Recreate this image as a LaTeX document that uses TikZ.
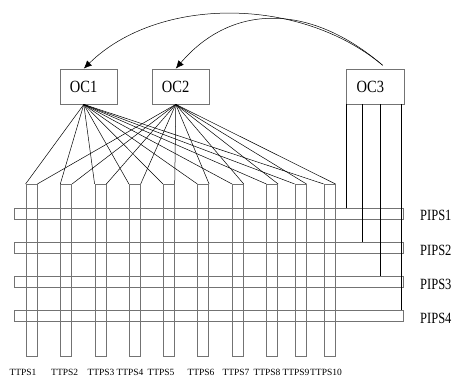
\documentclass[tikz,border=0pt]{standalone}
\usepackage{fontspec}
\setmainfont{Liberation Serif}
\usepackage{tikz}
\usetikzlibrary{calc,arrows.meta}

\newcommand{\tallx}[2]{\scalebox{1}[#1]{#2}}

\begin{document}
\begin{tikzpicture}[x=1pt,y=-1pt,>={Latex[length=8pt,width=7pt]},
	ocbox/.style={draw=black!55,line width=0.8pt,minimum height=35pt,text width=37.7pt,
		inner xsep=10pt,inner ysep=0pt,align=left,font=\fontsize{14.5}{15}\selectfont},
	ttcol/.style={draw=black!55,line width=0.8pt,minimum width=11pt,minimum height=171.7pt,inner sep=0pt},
	pipbar/.style={draw=black!55,line width=0.8pt,minimum width=388.7pt,minimum height=11pt,inner sep=0pt},
	fan/.style={line width=0.5pt},
	ttlbl/.style={font=\fontsize{9.5}{10}\selectfont,inner sep=0pt,anchor=base},
	piplbl/.style={font=\fontsize{12.5}{14}\selectfont,inner sep=0pt,anchor=west}]
	\useasboundingbox (0,0) rectangle (459,376);
	
	% controllers
	\node[ocbox] (oc1) at (88.8,86.5) {\tallx{1.18}{OC1}};
	\node[ocbox] (oc2) at (180.8,86.5) {\tallx{1.18}{OC2}};
	\node[ocbox] (oc3) at (375.5,86.5) {\tallx{1.18}{OC3}};
	
	% TTPS columns
	\foreach \i/\x in {1/31.5,2/66.2,3/100.5,4/134.8,5/168.8,6/203.2,7/237.8,8/272.2,9/300.5,10/329.5}
	\node[ttcol] (t\i) at (\x,270.2) {};
	\foreach \i/\x in {1/23,2/64.7,3/101,4/130,5/161,6/201,7/236,8/267,9/296,10/326}
	\node[ttlbl] (l\i) at (\x,375) {TTPS\i};
	
	% PIPS bars
	\foreach \j/\y in {1/213.8,2/247.9,3/282,4/316.1}{
		\node[pipbar] (p\j) at (208.65,\y) {};
		\node[piplbl] (q\j) at (420,\y+2) {\tallx{1.25}{PIPS\j}};
	}
	
	% fan out
	\foreach \i in {1,...,10}{
		\draw[fan] ([xshift=-5pt]oc1.south) -- (t\i.north west);
		\draw[fan] ([xshift=-5pt]oc2.south) -- (t\i.north east);
	}
	
	% OC3 to PIPS
	\draw[fan] (oc3.south west) -- (oc3.south west |- p1.north);
	\foreach \j/\dx in {2/15.6,3/34.3,4/55}{
		\coordinate (d\j) at ($(oc3.south west)+(\dx,0)$);
		\draw[fan] (d\j) -- (d\j |- p\j.north);
	}
	
	% arcs
	\coordinate (src) at (382.7,65.3);
	\draw[->,fan] (src) .. controls (300,-4) and (158,-4) .. ([xshift=-5pt]oc1.north);
	\draw[->,fan] (src) .. controls (310,3) and (232,3) .. ([xshift=-5pt]oc2.north);
\end{tikzpicture}
\end{document}
